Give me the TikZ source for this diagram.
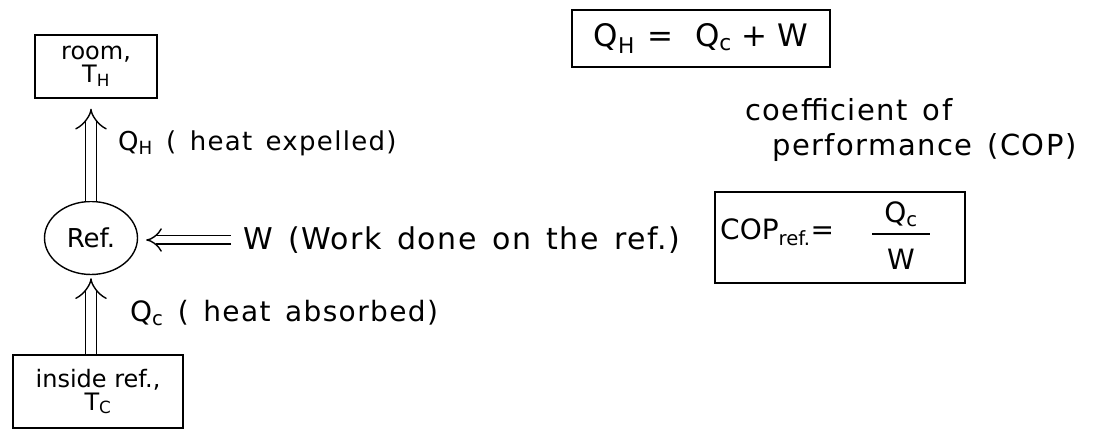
\documentclass[tikz,border=0pt]{standalone}
\usepackage{fontspec}
\setmainfont{DejaVu Sans}
\newfontfamily\handfont[LetterSpace=5,WordSpace=1.4]{DejaVu Sans}
\usetikzlibrary{arrows.meta,shapes.geometric}
\tikzset{
  hand/.style={line width=1.4pt, black},
  boxnode/.style={hand, draw, rectangle, inner sep=0pt, align=center, font=\fontsize{24}{25}\selectfont},
  lbl/.style={anchor=west, inner sep=0pt},
  flow/.style={hand, double, double distance=10pt, -{Implies}},
}
\begin{document}
\begin{tikzpicture}[x=1pt,y=-1pt]
\useasboundingbox (0,0) rectangle (1093,430);
% nodes
\node[boxnode, minimum width=122pt, minimum height=63pt] (room) at (96,66.5) {room,\\[-2pt] T\textsubscript{H}};
\node[hand, draw, ellipse, minimum width=93pt, minimum height=73pt, inner sep=0pt, font=\fontsize{26}{28}\selectfont] (ref) at (91,238) {Ref.};
\node[boxnode, minimum width=170pt, minimum height=73pt] (inside) at (98,391.5) {inside ref.,\\[-2pt] T\textsubscript{C}};
\node[lbl, font=\handfont\fontsize{26}{28}\selectfont] (qh) at (118,143) {Q\textsubscript{H} ( heat expelled)};
\node[lbl, font=\handfont\fontsize{30}{32}\selectfont] (w) at (243,240) {W (Work done on the ref.)};
\node[lbl, font=\handfont\fontsize{28}{31}\selectfont] (qc) at (130,313) {Q\textsubscript{c} ( heat absorbed)};
\node[boxnode, minimum width=258pt, minimum height=57pt, font=\fontsize{31}{34}\selectfont] (eq) at (701,38.5) {Q\textsubscript{H}\hspace{12pt}=\hspace{22pt}Q\textsubscript{c} + W};
\node[lbl, font=\handfont\fontsize{29}{33}\selectfont] (coef) at (745,110) {coefficient of};
\node[lbl, font=\handfont\fontsize{29}{33}\selectfont] (perf) at (772,148) {performance (COP)};
\node[hand, draw, rectangle, minimum width=250pt, minimum height=91pt] (cop) at (840,237.5) {};
\node[lbl, font=\fontsize{28}{30}\selectfont] (copl) at (720,232) {COP\textsubscript{ref.}=};
\node[inner sep=0pt, font=\fontsize{28}{30}\selectfont] (num) at (901,214) {Q\textsubscript{c}};
\node[inner sep=0pt, font=\fontsize{28}{30}\selectfont] (den) at (901,259) {W};
\coordinate (barl) at (872,234);
\coordinate (barr) at (930,234);
\draw[hand] (barl) -- (barr);
% arrows
\draw[flow, shorten >=10pt] (ref.north) -- (ref.north |- room.south);
\draw[flow, shorten >=3pt] (ref.south |- inside.north) -- (ref.south);
\draw[flow, double distance=7pt, shorten >=8pt, shorten <=12pt] (w.west) -- (w.west -| ref.east);
\end{tikzpicture}
\end{document}
